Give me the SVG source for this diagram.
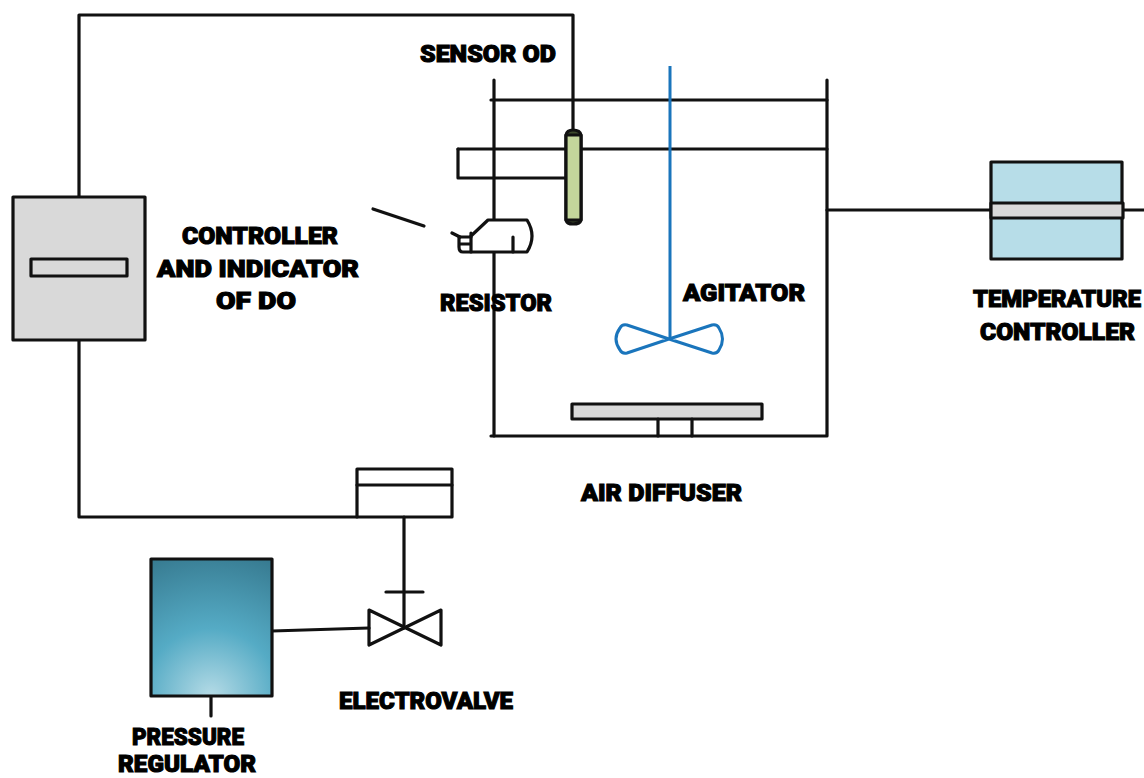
<svg xmlns="http://www.w3.org/2000/svg" width="1144" height="778" viewBox="0 0 1144 778">
<style>
.l{fill:none;stroke:#111;stroke-width:3.2;stroke-linecap:round;stroke-linejoin:round}
.b{stroke:#111;stroke-width:3.2;stroke-linejoin:round}
.g{fill:#d9d9d9}
.t{font-family:Roboto,"DejaVu Sans",sans-serif;font-weight:900;font-size:24px;fill:#000;stroke:#000;stroke-width:1.1}
.a{fill:none;stroke:#1a75bc;stroke-width:3;stroke-linejoin:round}
</style>
<defs>
<radialGradient id="pg" gradientUnits="userSpaceOnUse" cx="211" cy="696" r="150">
<stop offset="0" stop-color="#b5dbe6"/><stop offset=".45" stop-color="#55abc5"/><stop offset="1" stop-color="#36798f"/>
</radialGradient>
</defs>
<rect width="1144" height="778" fill="#fff"/>
<g id="connectors">
<path class="l" d="M79 196V15H573V130"/>
<path class="l" d="M79 340V517H357"/>
<path class="l" d="M404 517V628"/>
<path class="l" d="M272 631L369 628"/>
<path class="l" d="M211 696V716"/>
<path class="l" d="M827 210H991"/>
<path class="l" d="M1122 210H1144"/>
</g>
<g id="tank">
<path class="l" d="M494 80V436"/>
<path class="l" d="M491 100H827"/>
<path class="l" d="M827 80V436H491"/>
<path class="l" d="M458 149H827"/>
<path class="l" d="M566 178H458V149"/>
</g>
<g id="agitator">
<path class="a" d="M670 66V339"/>
<path class="a" d="M669 339L627 353Q622 354 620 350Q612 339 620 328Q622 324 627 325ZM669 339L712 353Q717 354 719 350Q726 339 719 328Q717 324 712 325Z"/>
<text class="t" x="683" y="301" textLength="122" lengthAdjust="spacingAndGlyphs">AGITATOR</text>
</g>
<g id="sensor-rod">
<path d="M566 135Q567 130 573 130Q580 130 581 135V220Q580 224 573 224Q567 224 566 220Z" fill="#3d4a2c" class="b"/>
<rect x="566" y="135" width="15" height="85" fill="#c3d69b" class="b"/>
<text class="t" x="420" y="62" textLength="136" lengthAdjust="spacingAndGlyphs">SENSOR OD</text>
</g>
<g id="controller">
<rect class="b g" x="13" y="197" width="132" height="143"/>
<rect class="b g" x="31" y="259" width="96" height="17"/>
<text class="t" x="182" y="244" textLength="156" lengthAdjust="spacingAndGlyphs">CONTROLLER</text>
<text class="t" x="157" y="277" textLength="202" lengthAdjust="spacingAndGlyphs">AND INDICATOR</text>
<text class="t" x="216" y="309" textLength="80" lengthAdjust="spacingAndGlyphs">OF DO</text>
</g>
<g id="resistor">
<path class="l" d="M373 209L424 226"/>
<path class="l" style="fill:#fff" d="M471 236L488 220H527Q537 236 527 252H463Q459 252 459 247V237H471Z"/>
<path class="l" d="M452 233L460 237M471 233V252M460 244H471M513 237V252"/>
<text class="t" x="440" y="311" textLength="112" lengthAdjust="spacingAndGlyphs">RESISTOR</text>
</g>
<g id="temperature-controller">
<rect class="b" fill="#b7dde8" x="991" y="162" width="131" height="97"/>
<rect class="b g" x="991" y="203" width="132" height="15"/>
<text class="t" x="973" y="307" textLength="168" lengthAdjust="spacingAndGlyphs">TEMPERATURE</text>
<text class="t" x="980" y="340" textLength="155" lengthAdjust="spacingAndGlyphs">CONTROLLER</text>
</g>
<g id="air-diffuser">
<rect class="b g" x="572" y="404" width="190" height="15"/>
<path class="l" d="M658 419V436M692 419V436"/>
<text class="t" x="581" y="501" textLength="161" lengthAdjust="spacingAndGlyphs">AIR DIFFUSER</text>
</g>
<g id="actuator">
<rect class="l" x="357" y="469" width="95" height="48"/>
<path class="l" d="M357 485H452"/>
</g>
<g id="electrovalve">
<path class="l" d="M386 592H423"/>
<path class="l" d="M369 610L441 645V610L369 645Z"/>
<text class="t" x="339" y="709" textLength="174" lengthAdjust="spacingAndGlyphs">ELECTROVALVE</text>
</g>
<g id="pressure-regulator">
<rect class="b" fill="url(#pg)" x="151" y="559" width="121" height="137"/>
<text class="t" x="132" y="745" textLength="112" lengthAdjust="spacingAndGlyphs">PRESSURE</text>
<text class="t" x="118" y="772" textLength="138" lengthAdjust="spacingAndGlyphs">REGULATOR</text>
</g>
</svg>
